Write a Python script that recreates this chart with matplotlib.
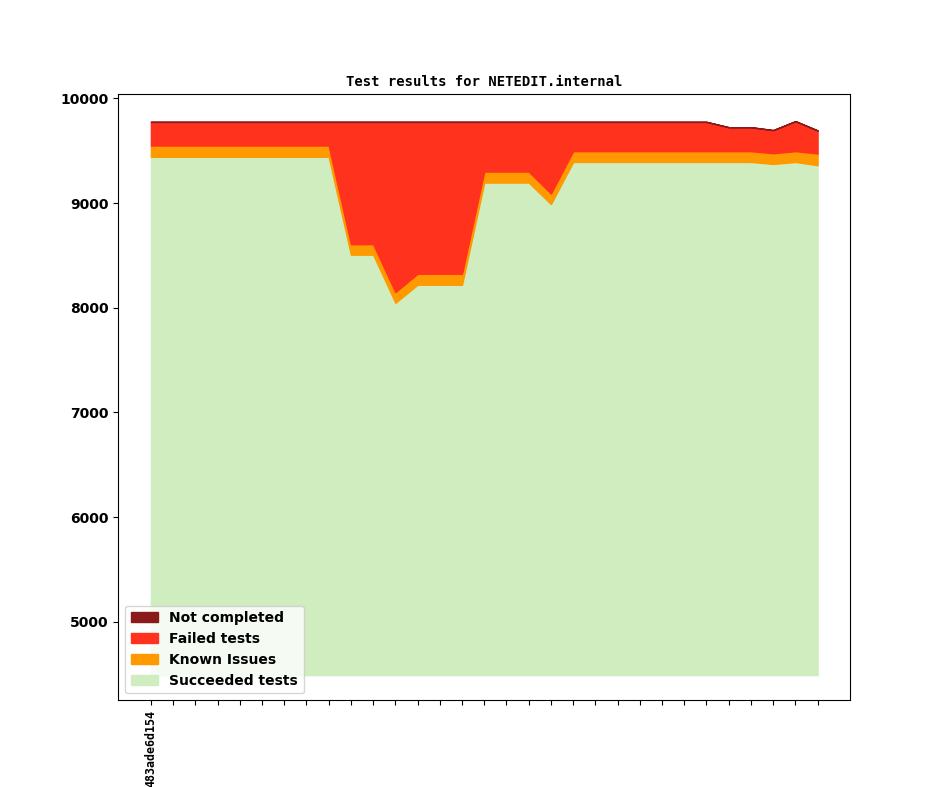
import matplotlib
matplotlib.use('Agg')
import matplotlib.pyplot as plt
import numpy as np

# commits (only the first one is labelled on the axis)
commit_labels = ['483ade6d154'] + [''] * 30

succeeded = [9442, 9442, 9442, 9442, 9442, 9442, 9442, 9442, 9442,
             8507, 8507, 8047, 8220, 8220, 8220, 9196, 9196, 9196, 8991,
             9393, 9393, 9393, 9393, 9393, 9393, 9393, 9393, 9393,
             9374, 9393, 9362]
known_issues = [108, 108, 108, 108, 108, 108, 108, 108, 108,
                101, 101, 102, 105, 105, 105, 105, 105, 105, 100,
                103, 103, 103, 103, 103, 103, 103, 103, 103,
                102, 103, 112]
total = [9776] * 26 + [9725, 9725, 9697, 9783, 9694]
not_completed = [0] * 31

base = 4490

succ = np.array(succeeded)
known_top = succ + np.array(known_issues)
failed = np.array(total) - known_top
failed_top = known_top + failed
nc_top = failed_top + np.array(not_completed)

colors = {'nc': '#8b1a1a', 'failed': '#ff321e', 'known': '#ff9900', 'succ': '#cfedbf'}

fig = plt.figure(figsize=(9.44, 7.87), dpi=100)
ax = fig.add_subplot(111)
x = np.arange(len(succeeded))

ax.fill_between(x, base, succ, color=colors['succ'], linewidth=1, label='Succeeded tests')
ax.fill_between(x, succ, known_top, color=colors['known'], linewidth=1, label='Known Issues')
ax.fill_between(x, known_top, failed_top, color=colors['failed'], linewidth=1, label='Failed tests')
ax.fill_between(x, failed_top, nc_top, color=colors['nc'], linewidth=1, label='Not completed')

ax.set_xlim(-1.48, 31.44)
ax.set_ylim(4248, 10038)
ax.set_xticks(x)
ax.set_xticklabels(commit_labels, rotation=90, family='DejaVu Sans Mono', fontweight='bold', fontsize=8.4)
for t in ax.get_yticklabels():
    t.set_fontweight('bold')
    t.set_fontsize(10)

ax.set_title('Test results for NETEDIT.internal', family='DejaVu Sans Mono', fontweight='bold', fontsize=10)

handles, labels = ax.get_legend_handles_labels()
ax.legend(handles[::-1], labels[::-1], loc='lower left', prop={'weight': 'bold', 'size': 10})

plt.savefig('out.png', dpi=100)
